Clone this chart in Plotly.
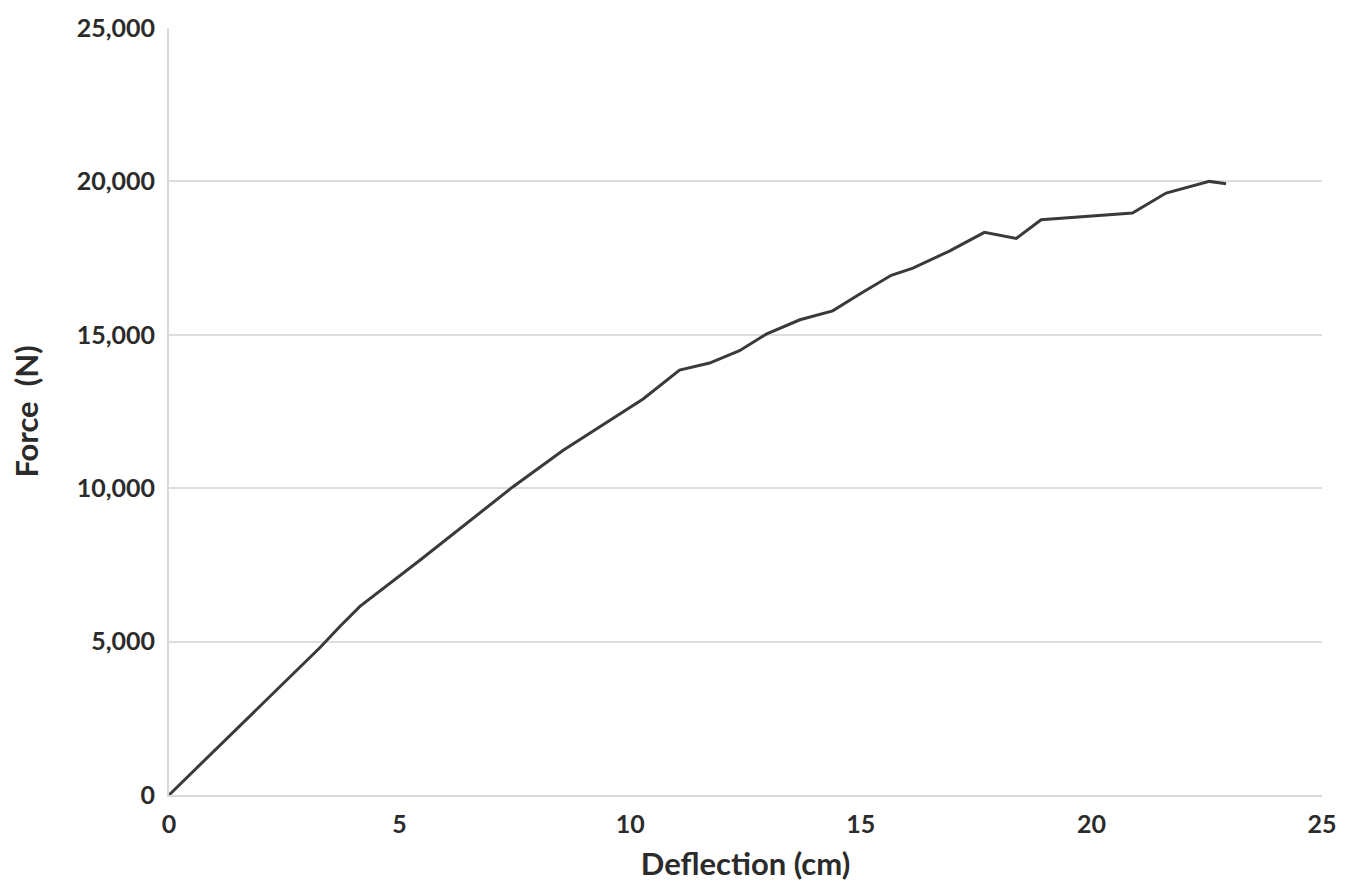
import plotly.graph_objects as go

deflection_cm = [0, 1.76, 3.27, 3.71, 4.14, 5.44, 7.46, 8.54, 10.28, 11.07, 11.72,
                 12.37, 12.95, 13.68, 14.39, 14.97, 15.66, 16.13, 16.92, 17.68, 18.37,
                 18.91, 20.89, 21.62, 22.56, 22.92]
force_n = [0, 2575, 4800, 5500, 6150, 7650, 10050, 11230, 12910, 13850, 14080,
           14480, 15020, 15490, 15780, 16320, 16940, 17170, 17730, 18340, 18140,
           18750, 18970, 19620, 20000, 19925]

x_ticks = [0, 5, 10, 15, 20, 25]
y_ticks = [0, 5000, 10000, 15000, 20000, 25000]

FONT = "Lato"
TXT = "#2b2b2b"

fig = go.Figure(go.Scatter(
    x=deflection_cm, y=force_n, mode="lines",
    line=dict(color="#3a3a3a", width=3),
    showlegend=False, hoverinfo="skip"))

fig.update_layout(
    width=1364, height=888,
    margin=dict(l=169, r=42, t=23, b=92),
    paper_bgcolor="white", plot_bgcolor="white",
    font=dict(family=FONT, color=TXT),
)
fig.update_xaxes(
    range=[0, 25], tickvals=x_ticks, showgrid=False, zeroline=False,
    showline=True, linecolor="#d9d9d9", linewidth=2,
    tickfont=dict(family=FONT, size=25, color=TXT, weight="bold"),
    ticks="", ticklabelstandoff=6,
    title=dict(text="Deflection (cm)", standoff=16,
               font=dict(family=FONT, size=31, color=TXT, weight="bold")),
)
fig.update_yaxes(
    range=[0, 25000], tickvals=y_ticks, tickformat=",d",
    showgrid=True, gridcolor="#dedede", gridwidth=2, zeroline=False,
    showline=True, linecolor="#d9d9d9", linewidth=2,
    tickfont=dict(family=FONT, size=25, color=TXT, weight="bold"),
    ticks="", ticklabelstandoff=7,
    title=dict(text="Force  (N)", standoff=29,
               font=dict(family=FONT, size=31, color=TXT, weight="bold")),
)

fig.write_html("out.html")
